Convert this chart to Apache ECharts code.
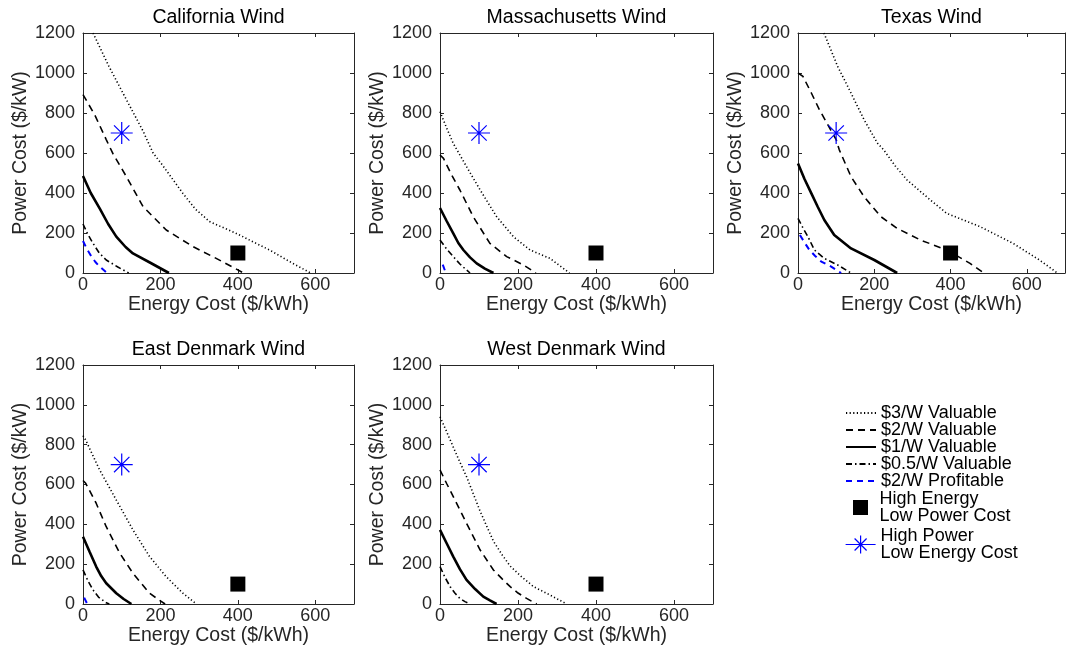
<!DOCTYPE html>
<html>
<head>
<meta charset="utf-8">
<script src="https://cdn.jsdelivr.net/npm/echarts@6/dist/echarts.min.js"></script>
<style>html,body{margin:0;padding:0;background:#fff;}#c{width:1068px;height:654px;}</style>
</head>
<body>
<div id="c"></div>
<script>
// ---- data ----
const regions = ['California Wind', 'Massachusetts Wind', 'Texas Wind', 'East Denmark Wind', 'West Denmark Wind'];
const curveNames = ['$3/W Valuable', '$2/W Valuable', '$1/W Valuable', '$0.5/W Valuable', '$2/W Profitable'];
const markerNames = ['High Energy Low Power Cost', 'High Power Low Energy Cost'];
const xTicks = [0, 200, 400, 600];
const xMax = 700;
const yTicks = [0, 200, 400, 600, 800, 1000, 1200];

// California
const caV3 = [[26,1200],[67,1033],[112,867],[155,710],[181,600],[205,540],[235,460],[258,398],[290,320],[327,257],[396,198],[440,155],[482,115],[542,48],[588,0]];
const caV2 = [[0,892],[30,792],[60,667],[77,598],[112,482],[155,332],[215,215],[284,132],[344,73],[415,0]];
const caV1 = [[0,485],[20,400],[43,323],[65,245],[86,182],[110,130],[129,98],[175,50],[222,0]];
const caV05 = [[0,245],[12,195],[26,148],[42,100],[60,65],[90,30],[118,0]];
const caP2 = [[0,160],[10,120],[22,82],[32,55],[43,32],[62,0]];
// Massachusetts
const maV3 = [[0,807],[17,725],[34,648],[68,532],[103,415],[145,282],[188,182],[231,115],[282,73],[332,0]];
const maV2 = [[0,590],[9,573],[30,490],[51,415],[85,282],[128,148],[171,82],[214,40],[246,0]];
const maV1 = [[0,325],[17,260],[34,198],[47,150],[60,115],[77,78],[94,48],[115,22],[137,0]];
const maV05 = [[0,165],[17,120],[34,82],[51,45],[68,15],[77,0]];
const maP2 = [[7,42],[15,0]];
// Texas
const txV3 = [[68,1200],[104,1033],[139,900],[173,767],[208,650],[225,615],[255,535],[286,465],[347,365],[390,298],[477,232],[564,148],[633,65],[680,0]];
const txV2 = [[0,1000],[13,983],[35,900],[56,817],[78,742],[100,667],[108,617],[139,482],[173,382],[217,282],[260,223],[321,165],[390,115],[451,48],[487,0]];
const txV1 = [[0,548],[17,470],[35,398],[52,330],[69,265],[95,190],[139,123],[200,65],[260,0]];
const txV05 = [[0,273],[13,225],[26,182],[43,115],[69,73],[104,40],[139,0]];
const txP2 = [[5,190],[18,150],[30,115],[45,85],[61,57],[87,32],[113,0]];
// East Denmark
const edV3 = [[0,845],[7,823],[43,673],[86,522],[129,372],[172,238],[215,137],[258,54],[293,0]];
const edV2 = [[0,620],[7,606],[34,506],[60,388],[95,255],[129,154],[172,54],[195,22],[212,0]];
const edV1 = [[0,338],[17,262],[34,188],[47,140],[60,104],[86,54],[105,25],[125,0]];
const edV05 = [[0,171],[13,115],[26,70],[40,35],[60,6],[68,0]];
const edP2 = [[3,32],[11,0]];
// West Denmark
const wdV3 = [[0,940],[17,865],[34,788],[51,712],[68,640],[103,465],[137,315],[160,245],[180,190],[210,135],[240,87],[282,45],[325,0]];
const wdV2 = [[0,673],[17,605],[34,539],[68,405],[103,271],[137,171],[160,125],[180,87],[200,55],[222,28],[248,0]];
const wdV1 = [[0,372],[17,305],[34,238],[51,175],[68,121],[90,75],[111,37],[128,18],[145,0]];
const wdV05 = [[0,188],[13,133],[26,87],[38,55],[51,28],[64,12],[77,0]];
const wdP2 = [];
// markers (same in every panel)
const highEnergyPoint = [[400, 100]];
const highPowerPoint = [[100, 700]];

const regionCurves = [
  [caV3, caV2, caV1, caV05, caP2],
  [maV3, maV2, maV1, maV05, maP2],
  [txV3, txV2, txV1, txV05, txP2],
  [edV3, edV2, edV1, edV05, edP2],
  [wdV3, wdV2, wdV1, wdV05, wdP2]
];

// ---- layout & styles ----
const grids = [
  {left: 83, top: 33, width: 271, height: 240},
  {left: 440, top: 33, width: 273, height: 240},
  {left: 798, top: 33, width: 269, height: 240},
  {left: 83, top: 365, width: 271, height: 239},
  {left: 440, top: 365, width: 273, height: 239}
];
const curveStyles = [
  {color: '#000', width: 1.6, type: [1.2, 2.4]},
  {color: '#000', width: 1.6, type: [7, 5]},
  {color: '#000', width: 2.6, type: 'solid'},
  {color: '#000', width: 1.6, type: [6, 3, 1.5, 3]},
  {color: '#0000ff', width: 2, type: [6, 5]}
];
const axisColor = '#262626';
const FONT = 'Liberation Sans, Arial, Helvetica, sans-serif';
const starPath = 'path://M0,-10L0,10M-10,0L10,0M-7,-7L7,7M-7,7L7,-7';
const starLegendPath = 'path://M-15,0L15,0M0,-9L0,9M-6,-6L6,6M-6,6L6,-6';
const squarePath = 'path://M0,0L10,0L10,10L0,10Z';

const xAxes = [], yAxes = [], series = [];
grids.forEach((g, i) => {
  const common = {
    gridIndex: i, type: 'value',
    axisLine: {show: true, onZero: false, lineStyle: {color: axisColor, width: 1}},
    axisTick: {show: true, inside: true, length: 4, lineStyle: {color: axisColor}},
    splitLine: {show: false}
  };
  xAxes.push(Object.assign({}, common, {
    position: 'bottom', min: xTicks[0], max: xMax, interval: xTicks[1] - xTicks[0],
    name: 'Energy Cost ($/kWh)', nameLocation: 'middle', nameGap: 19,
    nameTextStyle: {fontSize: 19.5, color: axisColor, fontFamily: FONT},
    axisLabel: {fontSize: 18, color: axisColor, fontFamily: FONT, margin: 3,
      formatter: v => (xTicks.indexOf(v) >= 0 ? String(v) : '')}
  }));
  xAxes.push(Object.assign({}, common, {
    position: 'top', min: xTicks[0], max: xMax, interval: xTicks[1] - xTicks[0],
    name: regions[i], nameLocation: 'middle', nameGap: 5,
    nameTextStyle: {fontSize: 19.5, color: '#000', fontFamily: FONT},
    axisLabel: {show: false}
  }));
  yAxes.push(Object.assign({}, common, {
    position: 'left', min: yTicks[0], max: yTicks[yTicks.length - 1], interval: yTicks[1] - yTicks[0],
    name: 'Power Cost ($/kW)', nameLocation: 'middle', nameGap: 52,
    nameTextStyle: {fontSize: 19.5, color: axisColor, fontFamily: FONT},
    axisLabel: {fontSize: 18, color: axisColor, fontFamily: FONT, margin: 8,
      formatter: v => String(v)}
  }));
  yAxes.push(Object.assign({}, common, {
    position: 'right', min: yTicks[0], max: yTicks[yTicks.length - 1], interval: yTicks[1] - yTicks[0],
    axisLabel: {show: false}
  }));
  regionCurves[i].forEach((data, k) => {
    series.push({
      name: curveNames[k], type: 'line', xAxisIndex: 2 * i, yAxisIndex: 2 * i,
      data: data, symbol: 'none', showSymbol: false, clip: true, smooth: false,
      lineStyle: curveStyles[k], itemStyle: {color: curveStyles[k].color},
      emphasis: {disabled: true}, z: 2
    });
  });
  series.push({
    name: markerNames[0], type: 'scatter', xAxisIndex: 2 * i, yAxisIndex: 2 * i,
    data: highEnergyPoint, symbol: 'rect', symbolSize: 15,
    itemStyle: {color: '#000', opacity: 1}, emphasis: {disabled: true}, z: 3
  });
  series.push({
    name: markerNames[1], type: 'scatter', xAxisIndex: 2 * i, yAxisIndex: 2 * i,
    data: highPowerPoint, symbol: starPath, symbolSize: 22,
    itemStyle: {color: 'rgba(0,0,0,0)', borderColor: '#0000ff', borderWidth: 1.2, opacity: 1},
    emphasis: {disabled: true}, z: 4
  });
});

const legendText = {fontSize: 18, color: '#000', fontFamily: FONT, lineHeight: 17};
const fmt = n => n.replace(' Low', '\nLow');
const option = {
  animation: false,
  backgroundColor: '#fff',
  grid: grids.map(g => Object.assign({containLabel: false}, g)),
  xAxis: xAxes,
  yAxis: yAxes,
  legend: [
    {orient: 'vertical', left: 845, top: 404, padding: 0, itemWidth: 30, itemHeight: 14, itemGap: -1,
     textStyle: legendText, data: curveNames, selectedMode: false, itemStyle: {opacity: 0}},
    {orient: 'vertical', left: 853, top: 490, padding: 0, itemWidth: 16, itemHeight: 15, itemGap: 0,
     textStyle: Object.assign({}, legendText, {padding: [0, 0, 0, 6]}), formatter: fmt, selectedMode: false,
     data: [{name: markerNames[0], icon: squarePath, itemStyle: {color: '#000', opacity: 1}}]},
    {orient: 'vertical', left: 845, top: 527, padding: 0, itemWidth: 30, itemHeight: 18, itemGap: 0,
     textStyle: legendText, formatter: fmt, selectedMode: false,
     data: [{name: markerNames[1], icon: starLegendPath,
       itemStyle: {color: 'rgba(0,0,0,0)', borderColor: '#0000ff', borderWidth: 1.2, opacity: 1}}]}
  ],
  series: series
};
const chart = echarts.init(document.getElementById('c'), null, {renderer: 'canvas'});
chart.setOption(option);
</script>
</body>
</html>
